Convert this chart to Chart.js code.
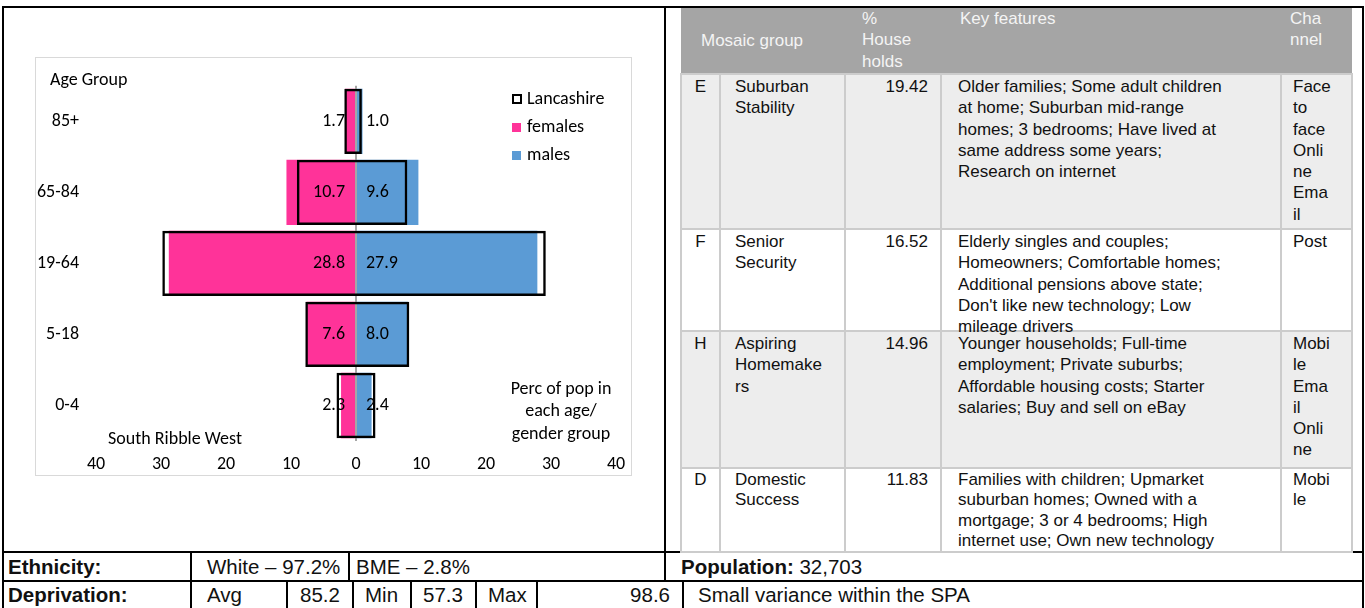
<!DOCTYPE html>
<html>
<head>
<meta charset="utf-8">
<script src="https://cdn.jsdelivr.net/npm/chart.js@4.4.1/dist/chart.umd.min.js"></script>
<style>
body { margin: 0; width: 1365px; height: 608px; position: relative; background: #fff; overflow: hidden; font-family: "Liberation Sans", Arial, sans-serif; color: #111; }
.ln { position: absolute; background: #000; }
#caixa { position: absolute; left: 35px; top: 57px; width: 595px; height: 417px; border: 1px solid #d9d9d9; }
#caixa canvas { display: block; }
#mosaic { position: absolute; left: 680px; top: 8px; width: 671px; border-collapse: collapse; table-layout: fixed; font-size: 17px; line-height: 21.3px; }
#mosaic td { border: 2px solid #cccccc; padding: 1px 4px 0 14px; vertical-align: top; white-space: nowrap; overflow: visible; }
#mosaic tr.hd td { background: #a5a5a5; color: #f4f4f4; border: none; padding-top: 0; }
#mosaic tr.cz td { background: #ededed; }
#mosaic td.let { text-align: center; padding: 1px 0 0 0; }
#mosaic td.num { text-align: right; padding-right: 12px; }
#mosaic td.key { padding-left: 16px; }
#mosaic td.can { padding-left: 11px; padding-right: 0; }
.cel { position: absolute; font-size: 20.5px; white-space: nowrap; }
.r1 { top: 553px; height: 27px; line-height: 27px; }
.r2 { top: 582px; height: 26px; line-height: 26px; }
</style>
</head>
<body>

<div class="ln" style="left:2px;top:6px;width:1362px;height:2px"></div>
<div class="ln" style="left:2px;top:6px;width:2px;height:602px"></div>
<div class="ln" style="left:1362px;top:6px;width:2px;height:602px"></div>
<div class="ln" style="left:664px;top:6px;width:2px;height:576px"></div>
<div class="ln" style="left:2px;top:551px;width:1362px;height:2px"></div>
<div class="ln" style="left:2px;top:580px;width:1362px;height:2px"></div>
<div class="ln" style="left:190px;top:553px;width:2px;height:55px"></div>
<div class="ln" style="left:348px;top:553px;width:2px;height:27px"></div>
<div class="ln" style="left:286px;top:582px;width:2px;height:26px"></div>
<div class="ln" style="left:352px;top:582px;width:2px;height:26px"></div>
<div class="ln" style="left:410px;top:582px;width:2px;height:26px"></div>
<div class="ln" style="left:475px;top:582px;width:2px;height:26px"></div>
<div class="ln" style="left:536px;top:582px;width:2px;height:26px"></div>
<div class="ln" style="left:682px;top:582px;width:2px;height:26px"></div>

<div id="caixa"><canvas id="piramide" width="595" height="417"></canvas></div>

<table id="mosaic">
<colgroup><col style="width:39px"><col style="width:125px"><col style="width:96px"><col style="width:340px"><col style="width:71px"></colgroup>
<tr class="hd"><td colspan="2" style="vertical-align:middle;padding-left:20px"><div style="height:65px;line-height:65px">Mosaic group</div></td><td style="padding-left:17px"><div style="height:65px">%<br>House<br>holds</div></td><td style="padding-left:19px"><div style="height:65px">Key features</div></td><td style="padding-left:9px"><div style="height:65px">Cha<br>nnel</div></td></tr>
<tr class="cz"><td class="let"><div style="height:152px">E</div></td><td><div style="height:152px">Suburban<br>Stability</div></td><td class="num"><div style="height:152px">19.42</div></td><td class="key"><div style="height:152px">Older families; Some adult children<br>at home; Suburban mid-range<br>homes; 3 bedrooms; Have lived at<br>same address some years;<br>Research on internet</div></td><td class="can"><div style="height:152px">Face<br>to<br>face<br>Onli<br>ne<br>Ema<br>il</div></td></tr>
<tr><td class="let"><div style="height:99px">F</div></td><td><div style="height:99px">Senior<br>Security</div></td><td class="num"><div style="height:99px">16.52</div></td><td class="key"><div style="height:99px">Elderly singles and couples;<br>Homeowners; Comfortable homes;<br>Additional pensions above state;<br>Don't like new technology; Low<br>mileage drivers</div></td><td class="can"><div style="height:99px">Post</div></td></tr>
<tr class="cz"><td class="let"><div style="height:134px">H</div></td><td><div style="height:134px">Aspiring<br>Homemake<br>rs</div></td><td class="num"><div style="height:134px">14.96</div></td><td class="key"><div style="height:134px">Younger households; Full-time<br>employment; Private suburbs;<br>Affordable housing costs; Starter<br>salaries; Buy and sell on eBay</div></td><td class="can"><div style="height:134px">Mobi<br>le<br>Ema<br>il<br>Onli<br>ne</div></td></tr>
<tr style="line-height:20.3px"><td class="let"><div style="height:81px">D</div></td><td><div style="height:81px">Domestic<br>Success</div></td><td class="num"><div style="height:81px">11.83</div></td><td class="key"><div style="height:81px">Families with children; Upmarket<br>suburban homes; Owned with a<br>mortgage; 3 or 4 bedrooms; High<br>internet use; Own new technology</div></td><td class="can"><div style="height:81px">Mobi<br>le</div></td></tr>
</table>

<div class="cel r1" style="left:8px"><b>Ethnicity:</b></div>
<div class="cel r1" style="left:207px">White – 97.2%</div>
<div class="cel r1" style="left:356px">BME – 2.8%</div>
<div class="cel r1" style="left:681px"><b>Population:</b> 32,703</div>
<div class="cel r2" style="left:8px"><b>Deprivation:</b></div>
<div class="cel r2" style="left:207px">Avg</div>
<div class="cel r2" style="left:300px">85.2</div>
<div class="cel r2" style="left:365px">Min</div>
<div class="cel r2" style="left:423px">57.3</div>
<div class="cel r2" style="left:488px">Max</div>
<div class="cel r2" style="left:540px;width:130px;text-align:right">98.6</div>
<div class="cel r2" style="left:698px">Small variance within the SPA</div>

<script>
var AGE_GROUPS = ['85+', '65-84', '19-64', '5-18', '0-4'];
var FEMALES = [1.7, 10.7, 28.8, 7.6, 2.3];
var MALES = [1.0, 9.6, 27.9, 8.0, 2.4];
var LANC_FEMALES = [1.8, 9.1, 29.8, 7.8, 3.0];
var LANC_MALES = [0.9, 7.9, 29.2, 8.2, 3.0];
var X_MIN = -40, X_MAX = 40, X_STEP = 10;
var LEGENDA = ['Lancashire', 'females', 'males'];
var NOTA = ['Perc of pop in', 'each age/', 'gender group'];

var Cores = { rosa: '#ff3399', azul: '#5b9bd5', preto: '#000000', cinza: '#a6a6a6' };
var FONTE = 'Carlito, Calibri, Lato, sans-serif';

Chart.defaults.font.family = FONTE;
Chart.defaults.font.size = 18;
Chart.defaults.color = '#000';

// textos, legenda e rotulos dos valores
var rotulos = {
    id: 'rotulos',
    afterDraw: function (chart) {
        var c = chart.ctx;
        var xs = chart.scales.x, ys = chart.scales.y;
        var zero = xs.getPixelForValue(0);
        c.save();
        c.font = '18px ' + FONTE;
        c.fillStyle = '#000';
        c.textBaseline = 'middle';
        AGE_GROUPS.forEach(function (g, i) {
            var y = ys.getPixelForValue(i);
            c.textAlign = 'right';
            c.fillText(FEMALES[i].toFixed(1), zero - 11, y);
            c.textAlign = 'left';
            c.fillText(MALES[i].toFixed(1), zero + 10, y);
        });

        c.textAlign = 'left';
        c.fillText('Age Group', 14, 22);
        c.fillText('South Ribble West', 72, 381);
        c.textAlign = 'center';
        NOTA.forEach(function (t, i) {
            c.fillText(t, 525, 331 + i * 22.5);
        });

        // legenda
        c.textAlign = 'left';
        LEGENDA.forEach(function (t, i) {
            var y = 41 + i * 28;
            if (i === 0) {
                c.lineWidth = 2;
                c.strokeStyle = Cores.preto;
                c.strokeRect(477, y - 4, 8, 8);
            } else {
                c.fillStyle = i === 1 ? Cores.rosa : Cores.azul;
                c.fillRect(476, y - 4, 9, 9);
            }
            c.fillStyle = '#000';
            c.fillText(t, 491, y);
        });
        c.restore();
    }
};

var ctx = document.getElementById('piramide').getContext('2d');
window.Piramide = new Chart(ctx, {
    type: 'bar',
    data: {
        labels: AGE_GROUPS,
        datasets: [{
            label: 'Lancashire',
            data: AGE_GROUPS.map(function (g, i) { return [-LANC_FEMALES[i], LANC_MALES[i]]; }),
            backgroundColor: 'rgba(0,0,0,0)',
            borderColor: Cores.preto,
            borderWidth: 2.5,
            borderSkipped: false
        },
        {
            label: 'females',
            data: FEMALES.map(function (v) { return -v; }),
            backgroundColor: Cores.rosa,
            borderWidth: 0
        },
        {
            label: 'males',
            data: MALES,
            backgroundColor: Cores.azul,
            borderWidth: 0
        }]
    },
    options: {
        indexAxis: 'y',
        responsive: false,
        animation: false,
        datasets: { bar: { grouped: false, categoryPercentage: 1, barPercentage: 0.92 } },
        layout: { padding: { top: 25, right: 15, left: 0, bottom: 0 } },
        plugins: { legend: { display: false }, tooltip: { enabled: false } },
        scales: {
            x: {
                min: X_MIN,
                max: X_MAX,
                z: 1,
                ticks: {
                    stepSize: X_STEP,
                    padding: 13,
                    callback: function (v) { return Math.abs(v); }
                },
                grid: {
                    drawTicks: false,
                    lineWidth: 2,
                    color: function (c) { return c.tick && c.tick.value === 0 ? Cores.cinza : 'rgba(0,0,0,0)'; }
                },
                border: { display: false },
                afterFit: function (s) { s.height = 34; s.paddingLeft = 0; s.paddingRight = 0; }
            },
            y: {
                ticks: { padding: 17 },
                grid: { display: false, drawTicks: false },
                border: { display: false },
                afterFit: function (s) { s.width = 60; }
            }
        }
    },
    plugins: [rotulos]
});
</script>
</body>
</html>
